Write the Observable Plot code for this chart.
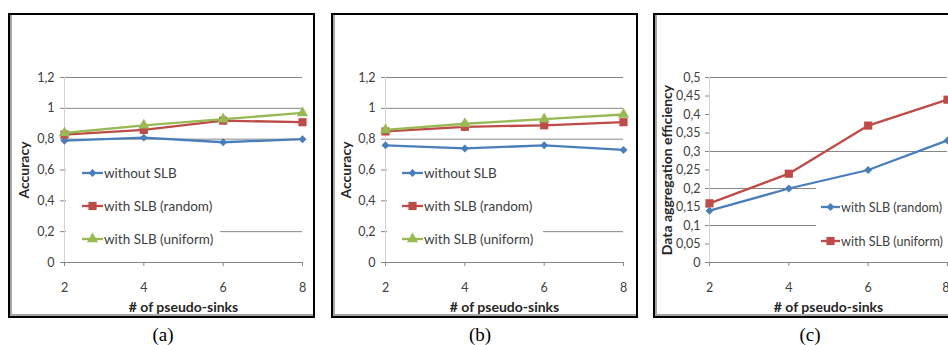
<!DOCTYPE html>
<html><head><meta charset="utf-8">
<script src="https://cdn.jsdelivr.net/npm/d3@7"></script>
<script src="https://cdn.jsdelivr.net/npm/@observablehq/plot@0.6"></script>
<style>
body{margin:0;background:#fff;}
#page{position:relative;width:948px;height:345px;overflow:hidden;background:#fff;font-family:Lato,"Open Sans",sans-serif;}
.frame{position:absolute;border:2px solid #000;box-shadow:inset 2px -2px 0 #a6a6a6;box-sizing:border-box;}
.chart{position:absolute;}
.caption{position:absolute;font-family:"Liberation Serif","DejaVu Serif",serif;font-size:19px;color:#000;transform:translate(-50%,-50%);line-height:1;}
.legbg{position:absolute;background:#fff;}
.legrow{position:absolute;height:18px;display:flex;align-items:center;font-size:13.5px;color:#404040;white-space:nowrap;font-family:Lato,sans-serif;}
.legrow svg{display:block;margin-right:1px;}
</style></head>
<body><div id="page"></div>
<script>
// ---- data ----
const xValues = [2, 4, 6, 8];
const seriesAB = ["without SLB", "with SLB (random)", "with SLB (uniform)"];
const seriesC = ["with SLB (random)", "with SLB (uniform)"];
const accuracyA_without = [0.79, 0.81, 0.78, 0.80];
const accuracyA_random  = [0.83, 0.86, 0.92, 0.91];
const accuracyA_uniform = [0.84, 0.89, 0.93, 0.97];
const accuracyB_without = [0.76, 0.74, 0.76, 0.73];
const accuracyB_random  = [0.85, 0.88, 0.89, 0.91];
const accuracyB_uniform = [0.86, 0.90, 0.93, 0.96];
const efficiencyC_random  = [0.14, 0.20, 0.25, 0.33];
const efficiencyC_uniform = [0.16, 0.24, 0.37, 0.44];
const yTicksAccuracy = [0, 0.2, 0.4, 0.6, 0.8, 1, 1.2];
const gridAccuracy = [0.2, 0.4, 0.6, 0.8, 1, 1.2];
const yTicksEfficiency = [0, 0.05, 0.1, 0.15, 0.2, 0.25, 0.3, 0.35, 0.4, 0.45, 0.5];
const gridEfficiency = [0.1, 0.2, 0.3, 0.5];
const xTitle = "# of pseudo-sinks";
const yTitleAccuracy = "Accuracy";
const yTitleEfficiency = "Data aggregation efficiency";
const captions = ["(a)", "(b)", "(c)"];

// ---- styles ----
const colors = {blue: "#4A7EBB", red: "#BE4B48", green: "#98B954"};
const markers = {
  blue: {symbol: "diamond2", r: 3.6},
  red: {symbol: "square", r: 4.6},
  green: {symbol: "triangle", r: 4.2}
};

const page = document.getElementById("page");
const fmtY = d => String(d).replace(".", ",");
const fmtX = d => String(d);

function rows(names, ys, colorKeys) {
  const out = [];
  names.forEach((name, i) => xValues.forEach((x, j) => out.push({series: name, x, y: ys[i][j], c: colorKeys[i]})));
  return out;
}

function makePanel(cfg) {
  const fr = document.createElement("div");
  fr.className = "frame";
  Object.assign(fr.style, {left: cfg.frame[0] + "px", top: cfg.frame[1] + "px", width: cfg.frame[2] + "px", height: cfg.frame[3] + "px"});
  page.appendChild(fr);

  const data = cfg.data;
  const marks = [
    Plot.gridY(cfg.grid, {stroke: "#868686", strokeOpacity: 1}),
    Plot.ruleX([2], {stroke: "#d4d4d4"}),
    Plot.ruleY([0], {stroke: "#868686"}),
    Plot.axisY({ticks: cfg.yTicks, tickFormat: fmtY, tickSize: 4, tickPadding: cfg.tickPadY, fontSize: 12.5, stroke: "#868686", fill: "#404040",
      label: cfg.yTitle, labelAnchor: "center", labelOffset: cfg.labelOffsetY, labelArrow: "none"}),
    Plot.axisX({ticks: xValues, tickFormat: fmtX, tickSize: 4, tickPadding: 17, fontSize: 12.5, stroke: "#868686", fill: "#404040",
      label: xTitle, labelAnchor: "center", labelOffset: 49, labelArrow: "none"})
  ];
  for (const key of cfg.colorKeys) {
    const d = data.filter(r => r.c === key);
    marks.push(Plot.line(d, {x: "x", y: "y", stroke: colors[key], strokeWidth: 2.3}));
    marks.push(Plot.dot(d, {x: "x", y: "y", fill: colors[key], symbol: markers[key].symbol, r: markers[key].r}));
  }
  const svg = Plot.plot({
    width: cfg.svg[2], height: cfg.svg[3],
    marginLeft: cfg.margins[0], marginRight: cfg.margins[1], marginTop: cfg.margins[2], marginBottom: cfg.margins[3],
    x: {domain: [2, 8]},
    y: {domain: cfg.yDomain},
    style: {fontFamily: "Lato, 'Open Sans', sans-serif", background: "transparent", overflow: "visible"},
    marks
  });
  svg.querySelectorAll('[aria-label="y-axis label"] text, [aria-label="x-axis label"] text').forEach(t => {
    t.setAttribute("font-weight", "bold"); t.setAttribute("font-size", "14"); t.setAttribute("fill", "#262626");
  });
  if (cfg.lastTickEnd) {
    const labels = svg.querySelectorAll('[aria-label="x-axis tick label"] text');
    const last = labels[labels.length - 1];
    if (last) { last.setAttribute("text-anchor", "end"); last.setAttribute("dx", "2"); }
  }
  const wrap = document.createElement("div");
  wrap.className = "chart";
  Object.assign(wrap.style, {left: cfg.svg[0] + "px", top: cfg.svg[1] + "px"});
  wrap.appendChild(svg);
  page.appendChild(wrap);

  // legend
  for (const b of cfg.legendBg) {
    const bg = document.createElement("div");
    bg.className = "legbg";
    Object.assign(bg.style, {left: b[0] + "px", top: b[2] + "px", width: (b[1] - b[0]) + "px", height: (b[3] - b[2]) + "px"});
    page.appendChild(bg);
  }
  cfg.legendNames.forEach((name, i) => {
    const key = cfg.colorKeys[i];
    const row = document.createElement("div");
    row.className = "legrow";
    Object.assign(row.style, {left: cfg.legendX + "px", top: (cfg.legendY[i] - 9) + "px", fontSize: cfg.legendFont + "px"});
    const w = cfg.legendSample;
    const s = d3.create("svg").attr("width", w).attr("height", 18);
    s.append("line").attr("x1", 0).attr("x2", w).attr("y1", 9).attr("y2", 9).attr("stroke", colors[key]).attr("stroke-width", 2.3);
    const symMap = {diamond2: d3.symbolDiamond2, square: d3.symbolSquare, triangle: d3.symbolTriangle};
    s.append("path").attr("transform", `translate(${w / 2},9)`).attr("fill", colors[key])
      .attr("d", d3.symbol(symMap[markers[key].symbol], Math.PI * markers[key].r ** 2)());
    row.appendChild(s.node());
    const t = document.createElement("span");
    t.textContent = name;
    row.appendChild(t);
    page.appendChild(row);
  });

  const cap = document.createElement("div");
  cap.className = "caption";
  cap.textContent = cfg.caption;
  Object.assign(cap.style, {left: cfg.captionXY[0] + "px", top: cfg.captionXY[1] + "px"});
  page.appendChild(cap);
}

makePanel({
  frame: [8, 13, 307, 305], svg: [10, 15, 302, 300], margins: [54, 10, 62, 53],
  data: rows(seriesAB, [accuracyA_without, accuracyA_random, accuracyA_uniform], ["blue", "red", "green"]),
  colorKeys: ["blue", "red", "green"], yDomain: [0, 1.2], yTicks: yTicksAccuracy, grid: gridAccuracy,
  yTitle: yTitleAccuracy, tickPadY: 6, labelOffsetY: 45,
  legendBg: [[66, 302, 160, 218], [66, 220, 222, 250]], legendNames: seriesAB, legendX: 82, legendY: [173, 206, 239], legendSample: 21, legendFont: 13.5,
  caption: captions[0], captionXY: [163, 334]
});
makePanel({
  frame: [331, 13, 307, 305], svg: [333, 15, 302, 300], margins: [52, 12, 62, 53],
  data: rows(seriesAB, [accuracyB_without, accuracyB_random, accuracyB_uniform], ["blue", "red", "green"]),
  colorKeys: ["blue", "red", "green"], yDomain: [0, 1.2], yTicks: yTicksAccuracy, grid: gridAccuracy,
  yTitle: yTitleAccuracy, tickPadY: 6, labelOffsetY: 44,
  legendBg: [[387, 623, 160, 218], [387, 543, 222, 250]], legendNames: seriesAB, legendX: 402, legendY: [173, 206, 239], legendSample: 21, legendFont: 13.5,
  caption: captions[1], captionXY: [480, 334]
});
makePanel({
  frame: [653, 13, 310, 305], svg: [655, 15, 293, 300], margins: [54, 1, 62, 53],
  data: rows(seriesC, [efficiencyC_random, efficiencyC_uniform], ["blue", "red"]),
  colorKeys: ["blue", "red"], yDomain: [0, 0.5], yTicks: yTicksEfficiency, grid: gridEfficiency,
  yTitle: yTitleEfficiency, tickPadY: 5, labelOffsetY: 47, lastTickEnd: true,
  legendBg: [[816, 960, 185, 252]], legendNames: seriesC, legendX: 821, legendY: [207, 241], legendSample: 19, legendFont: 12.6,
  caption: captions[2], captionXY: [810, 334]
});
</script>
</body></html>
